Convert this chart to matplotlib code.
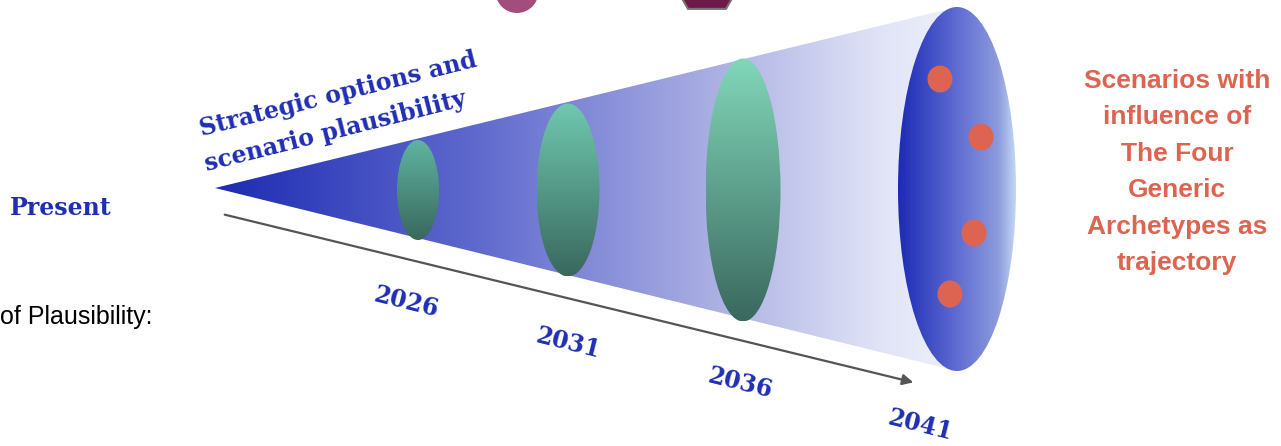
import numpy as np
import matplotlib
matplotlib.use("Agg")
import matplotlib.pyplot as plt
from matplotlib.patches import Ellipse, Polygon, Circle, RegularPolygon, FancyArrowPatch

# ---- content ----
years = ["2026", "2031", "2036", "2041"]
title_lines = ["Strategic options and", "scenario plausibility"]
present_label = "Present"
plaus_label = "of Plausibility:"
scenario_lines = ["Scenarios with", "influence of", "The Four", "Generic", "Archetypes as", "trajectory"]
# relative sizes of the plausibility ellipses (width, height in px)
ell_widths = [42, 63, 75]
ell_heights = [100, 173, 263]
n_scenarios = 4

W, H = 1281, 446
fig = plt.figure(figsize=(W / 100, H / 100), dpi=100)
ax = fig.add_axes([0, 0, 1, 1])
ax.set_xlim(0, W)
ax.set_ylim(H, 0)
ax.axis("off")

BLUE = "#1f2eb3"
ORANGE = "#dd6450"

# ---- cone with horizontal gradient ----
apex = (215, 188)
cx_end, top_end, bot_end = 957, 7, 371
cone = Polygon([apex, (cx_end, top_end), (cx_end, bot_end)], closed=True,
               facecolor="none", edgecolor="none")
ax.add_patch(cone)
xs = np.linspace(0, 1, 400)
stops_x = [0.0, 0.35, 0.65, 0.9, 1.0]
stops_c = np.array([[28, 43, 178], [95, 105, 205], [165, 170, 225], [225, 228, 246], [238, 240, 250]]) / 255
grad = np.stack([np.interp(xs, stops_x, stops_c[:, k]) for k in range(3)], axis=-1)
img = ax.imshow(grad[None, :, :], extent=(apex[0], cx_end, bot_end, top_end),
                aspect="auto", zorder=1, interpolation="bilinear")
img.set_clip_path(cone)

# ---- green plausibility ellipses with vertical gradient ----
ell_cx = [418, 568, 743]
ell_cy = 190
ell_tops = [[95, 180, 160], [112, 200, 175], [130, 215, 185]]
g_bot = np.array([58, 104, 94]) / 255
ys = np.linspace(0, 1, 300)
for cx, w, h, tc in zip(ell_cx, ell_widths, ell_heights, ell_tops):
    g_top = np.array(tc) / 255
    vgrad = (g_top[None, :] * (1 - ys[:, None]) + g_bot[None, :] * ys[:, None])
    e = Ellipse((cx, ell_cy), w, h, facecolor="none", edgecolor="none", zorder=2)
    ax.add_patch(e)
    im = ax.imshow(vgrad[:, None, :], extent=(cx - w / 2, cx + w / 2, ell_cy + h / 2, ell_cy - h / 2),
                   aspect="auto", zorder=2, interpolation="bilinear")
    im.set_clip_path(e)

# ---- big right ellipse ----
big_cx, big_cy, big_w, big_h = 957, 189, 118, 364
big = Ellipse((big_cx, big_cy), big_w, big_h, facecolor="none", edgecolor="none", zorder=3)
ax.add_patch(big)
hx = np.linspace(0, 1, 300)
b_stops_x = [0.0, 0.5, 0.85, 1.0]
b_stops_c = np.array([[28, 43, 180], [95, 108, 210], [140, 155, 220], [195, 215, 245]]) / 255
bgrad = np.stack([np.interp(hx, b_stops_x, b_stops_c[:, k]) for k in range(3)], axis=-1)
bim = ax.imshow(bgrad[None, :, :], extent=(big_cx - big_w / 2, big_cx + big_w / 2, big_cy + big_h / 2, big_cy - big_h / 2),
                aspect="auto", zorder=3, interpolation="bilinear")
bim.set_clip_path(big)

dot_pos = [(940, 79), (981, 137), (974, 233), (950, 294)]
for (dx, dy) in dot_pos[:n_scenarios]:
    ax.add_patch(Ellipse((dx, dy), 25, 27, facecolor=ORANGE, edgecolor="none", zorder=4))

# ---- time arrow ----
arr = FancyArrowPatch((222, 214), (916, 383), arrowstyle="-|>", mutation_scale=16,
                      color="#555555", linewidth=1.6, zorder=2)
ax.add_patch(arr)

# ---- year labels ----
year_pos = [(406, 302), (568, 343), (740, 383), (920, 425)]
for yr, (x, y) in zip(years, year_pos):
    ax.text(x, y, yr, rotation=-14, ha="center", va="center", color=BLUE,
            fontsize=17, fontweight="bold", family="DejaVu Serif", zorder=5,
            rotation_mode="anchor")

# ---- title along cone ----
title_pos = [(338, 94), (335, 131)]
for line, (x, y) in zip(title_lines, title_pos):
    ax.text(x, y, line, rotation=14.2, ha="center", va="center", color=BLUE,
            fontsize=17, fontweight="bold", family="DejaVu Serif", zorder=5,
            rotation_mode="anchor")

ax.text(61, 208, present_label, ha="center", va="center", color=BLUE,
        fontsize=17, fontweight="bold", family="DejaVu Serif")
ax.text(0, 317, plaus_label, ha="left", va="center", color="black",
        fontsize=18, family="Liberation Sans")

# ---- scenario text ----
scen_y = [81, 117, 154, 190, 227, 263]
for line, y in zip(scenario_lines, scen_y):
    ax.text(1177, y, line, ha="center", va="center", color=ORANGE,
            fontsize=19, fontweight="bold", family="Liberation Sans")

# ---- cut-off shapes at top ----
ax.add_patch(Circle((517, -8.5), 21.5, facecolor="#a34d7a", edgecolor="none", zorder=2))
ax.add_patch(RegularPolygon((707, -24), numVertices=6, radius=38, orientation=np.pi / 6,
                            facecolor="#6e1a48", edgecolor="#777777", linewidth=1.5, zorder=2))

fig.savefig("out.png", dpi=100)
